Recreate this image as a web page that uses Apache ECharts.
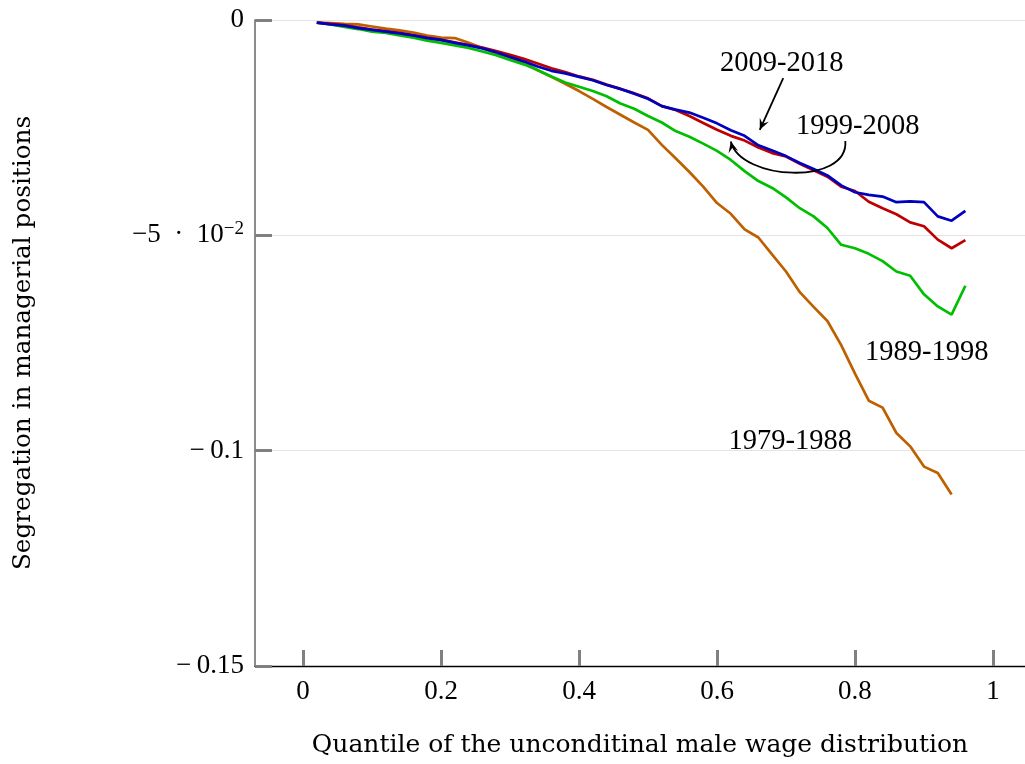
<!DOCTYPE html>
<html><head><meta charset="utf-8">
<script src="https://cdn.jsdelivr.net/npm/echarts@6/dist/echarts.min.js"></script>
<style>html,body{margin:0;padding:0;background:#fff}#c{width:1025px;height:764px}</style>
</head><body><div id="c"></div>
<script>
// ---- data ----
const quantiles = [0.02,0.04,0.06,0.08,0.10,0.12,0.14,0.16,0.18,0.20,0.22,0.24,0.26,0.28,0.30,0.32,0.34,0.36,0.38,0.40,0.42,0.44,0.46,0.48,0.50,0.52,0.54,0.56,0.58,0.60,0.62,0.64,0.66,0.68,0.70,0.72,0.74,0.76,0.78,0.80,0.82,0.84,0.86,0.88,0.90,0.92,0.94,0.96];
const seg1979 = [-0.0006,-0.0007,-0.0009,-0.0010,-0.0015,-0.0020,-0.0024,-0.0029,-0.0036,-0.0041,-0.0042,-0.0053,-0.0065,-0.0077,-0.0087,-0.0099,-0.0117,-0.0132,-0.0148,-0.0165,-0.0183,-0.0202,-0.0220,-0.0238,-0.0255,-0.0290,-0.0321,-0.0353,-0.0387,-0.0425,-0.0450,-0.0486,-0.0505,-0.0545,-0.0584,-0.0632,-0.0666,-0.0699,-0.0755,-0.0821,-0.0884,-0.0900,-0.0959,-0.0990,-0.1037,-0.1052,-0.1102];
const seg1989 = [-0.0006,-0.0010,-0.0016,-0.0021,-0.0027,-0.0030,-0.0036,-0.0041,-0.0048,-0.0053,-0.0059,-0.0065,-0.0073,-0.0082,-0.0093,-0.0103,-0.0116,-0.0131,-0.0145,-0.0155,-0.0165,-0.0177,-0.0194,-0.0206,-0.0223,-0.0238,-0.0258,-0.0271,-0.0287,-0.0304,-0.0325,-0.0351,-0.0374,-0.0390,-0.0412,-0.0437,-0.0456,-0.0483,-0.0522,-0.0530,-0.0543,-0.0560,-0.0584,-0.0594,-0.0637,-0.0665,-0.0684,-0.0617];
const seg1999 = [-0.0006,-0.0009,-0.0012,-0.0017,-0.0022,-0.0026,-0.0030,-0.0035,-0.0041,-0.0046,-0.0052,-0.0058,-0.0064,-0.0072,-0.0081,-0.0090,-0.0101,-0.0112,-0.0121,-0.0131,-0.0139,-0.0150,-0.0160,-0.0170,-0.0182,-0.0200,-0.0209,-0.0223,-0.0239,-0.0255,-0.0269,-0.0280,-0.0296,-0.0309,-0.0317,-0.0334,-0.0349,-0.0364,-0.0387,-0.0397,-0.0422,-0.0437,-0.0451,-0.0470,-0.0479,-0.0510,-0.0530,-0.0511];
const seg2009 = [-0.0006,-0.0010,-0.0013,-0.0019,-0.0023,-0.0027,-0.0031,-0.0036,-0.0042,-0.0046,-0.0053,-0.0059,-0.0066,-0.0075,-0.0086,-0.0096,-0.0108,-0.0118,-0.0124,-0.0132,-0.0140,-0.0151,-0.0160,-0.0171,-0.0183,-0.0200,-0.0208,-0.0215,-0.0227,-0.0240,-0.0256,-0.0269,-0.0291,-0.0303,-0.0316,-0.0332,-0.0346,-0.0361,-0.0384,-0.0400,-0.0406,-0.0410,-0.0423,-0.0421,-0.0423,-0.0456,-0.0466,-0.0443];
const seriesNames = ['1979-1988','1989-1998','1999-2008','2009-2018'];
const xTicks = [0,0.2,0.4,0.6,0.8,1];
const xTickLabels = ['0','0.2','0.4','0.6','0.8','1'];
const yTickValues = [0,-0.05,-0.1,-0.15];
const yTickLabels = ['0','{m|−5\u2002·\u200210}{s|−2}','−\u20090.1','−\u20090.15'];
const xTitle = 'Quantile of the unconditinal male wage distribution';
const yTitle = 'Segregation in managerial positions';
// annotation anchors in data coordinates
const labelPos = {'2009-2018':[0.694,-0.0100],'1999-2008':[0.804,-0.0247],'1989-1998':[0.904,-0.0772],'1979-1988':[0.706,-0.0978]};
const straightArrow = [[0.696,-0.0135],[0.662,-0.0255]];
const curveArrow = [[0.786,-0.0281],[0.791,-0.0385],[0.634,-0.0373],[0.620,-0.0282]];

const FONT = 'Liberation Serif';
const TFONT = 'DejaVu Serif';
const colors = ['#bf6000','#00bf00','#bf0000','#0000bf'];
const allSeg = [seg1979, seg1989, seg1999, seg2009];

const chart = echarts.init(document.getElementById('c'), null, {renderer:'canvas'});
const option = {
  animation:false,
  backgroundColor:'#fff',
  grid:{left:255,right:0,top:20,bottom:98,containLabel:false},
  xAxis:{type:'value',min:-0.0696,max:1.0464,
    axisLine:{show:true,onZero:false,lineStyle:{color:'#000',width:1.3}},
    axisTick:{show:true,inside:true,length:16,customValues:xTicks,lineStyle:{color:'#808080',width:3}},
    axisLabel:{customValues:xTicks,formatter:v=>{const i=xTicks.findIndex(t=>Math.abs(t-v)<1e-9);return i>=0?xTickLabels[i]:'';},
      margin:12,fontFamily:FONT,fontSize:27,color:'#000'},
    splitLine:{show:false},
    name:xTitle,nameLocation:'middle',nameGap:67,nameTextStyle:{fontFamily:TFONT,fontSize:25,color:'#000'}},
  yAxis:{type:'value',min:-0.15,max:0,interval:0.05,
    axisLine:{show:true,onZero:false,lineStyle:{color:'#666',width:1.5}},
    axisTick:{show:true,inside:true,length:17,lineStyle:{color:'#808080',width:3}},
    axisLabel:{margin:11,fontFamily:FONT,fontSize:27,color:'#000',
      formatter:v=>{const i=yTickValues.findIndex(t=>Math.abs(t-v)<1e-9);return i>=0?yTickLabels[i]:'';},
      rich:{m:{fontFamily:FONT,fontSize:27,color:'#000'},s:{fontFamily:FONT,fontSize:19,color:'#000',verticalAlign:'top',padding:[0,0,12,0]}}},
    splitLine:{show:true,lineStyle:{color:'#e4e4e4',width:1}},
    name:yTitle,nameLocation:'middle',nameGap:219,nameRotate:90,nameTextStyle:{fontFamily:TFONT,fontSize:24.7,color:'#000'}},
  series: allSeg.map((seg,k)=>({
    name:seriesNames[k],type:'line',showSymbol:false,symbol:'none',
    data:seg.map((v,i)=>[quantiles[i],v]),
    lineStyle:{color:colors[k],width:2.7},itemStyle:{color:colors[k]},z:2+k
  }))
};
chart.setOption(option);

function px(p){return chart.convertToPixel({gridIndex:0},p);}
const g=[];
Object.keys(labelPos).forEach(name=>{
  const p=px(labelPos[name]);
  g.push({type:'text',x:p[0],y:p[1],z:20,style:{text:name,fontFamily:FONT,fontSize:28.5,fill:'#000',align:'center',verticalAlign:'middle'}});
});
function arrowHead(tip, from){
  const dx=tip[0]-from[0], dy=tip[1]-from[1]; const L=Math.hypot(dx,dy); const ux=dx/L, uy=dy/L;
  const len=11, w=5;
  const bx=tip[0]-ux*len, by=tip[1]-uy*len;
  const mx=tip[0]-ux*len*0.6, my=tip[1]-uy*len*0.6;
  return {type:'polygon',z:21,shape:{points:[tip,[bx-uy*w,by+ux*w],[mx,my],[bx+uy*w,by-ux*w]]},style:{fill:'#000'}};
}
const a0=px(straightArrow[0]), a1=px(straightArrow[1]);
g.push({type:'line',z:21,shape:{x1:a0[0],y1:a0[1],x2:a1[0],y2:a1[1]},style:{stroke:'#000',lineWidth:1.8}});
g.push(arrowHead(a1,a0));
const c=curveArrow.map(px);
g.push({type:'bezierCurve',z:21,shape:{x1:c[0][0],y1:c[0][1],cpx1:c[1][0],cpy1:c[1][1],cpx2:c[2][0],cpy2:c[2][1],x2:c[3][0],y2:c[3][1]},style:{stroke:'#000',lineWidth:1.8,fill:null}});
g.push(arrowHead(c[3],c[2]));
chart.setOption({graphic:g});
</script></body></html>
